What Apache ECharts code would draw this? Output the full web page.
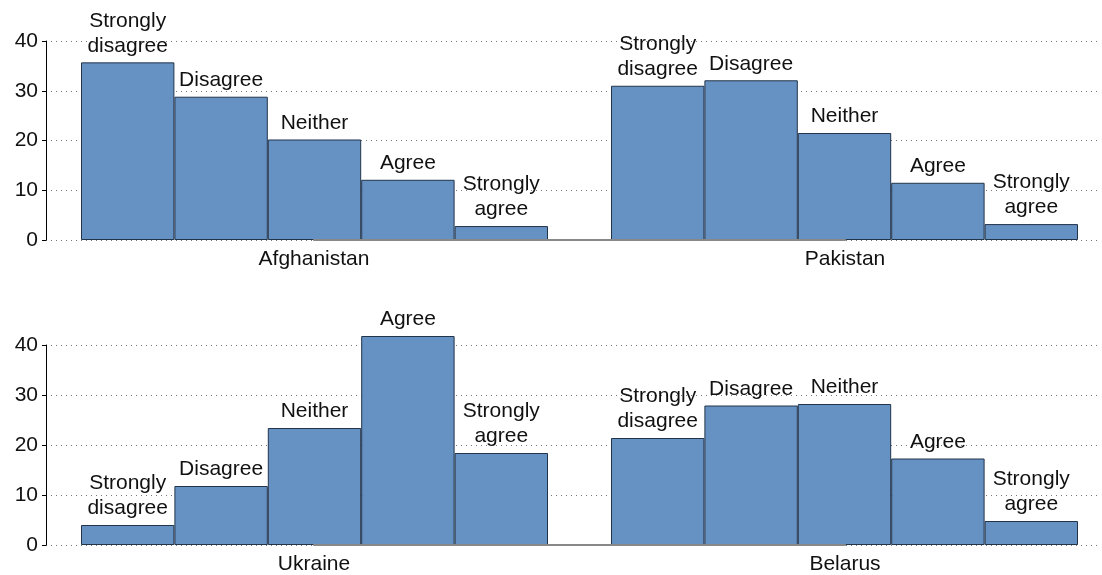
<!DOCTYPE html>
<html>
<head>
<meta charset="utf-8">
<script src="https://cdn.jsdelivr.net/npm/echarts@6/dist/echarts.min.js"></script>
<style>html,body{margin:0;padding:0;background:#fff;}#c{width:1102px;height:575px;}</style>
</head>
<body>
<div id="c"></div>
<script>
var responses = ['Strongly disagree', 'Disagree', 'Neither', 'Agree', 'Strongly agree'];
var topCountries = ['Afghanistan', 'Pakistan'];
var bottomCountries = ['Ukraine', 'Belarus'];
var afghanistan = [35.7, 28.8, 20.2, 12.1, 2.8];
var pakistan = [31.0, 32.1, 21.5, 11.5, 3.2];
var ukraine = [4.0, 11.8, 23.4, 41.8, 18.4];
var belarus = [21.4, 27.9, 28.2, 17.3, 4.8];
var yTicks = [0, 10, 20, 30, 40];

var FONT = "'Liberation Sans', Arial, Helvetica, sans-serif";
var TXT = '#111';

var chart = echarts.init(document.getElementById('c'), null, {renderer: 'canvas'});

var rows = [
  {axisTop: 41, axisH: 199, barTop: 16.1, barH: 223.9, countries: topCountries, data: [afghanistan, pakistan]},
  {axisTop: 345, axisH: 200, barTop: 320, barH: 225, countries: bottomCountries, data: [ukraine, belarus]}
];

var grids = [], xAxes = [], yAxes = [], series = [];
rows.forEach(function (r) {
  // axis / gridline grid
  var gi = grids.length;
  grids.push({left: 46, right: 5, top: r.axisTop, height: r.axisH});
  xAxes.push({type: 'value', gridIndex: gi, show: false, min: 0, max: 1});
  yAxes.push({
    type: 'value', gridIndex: gi, min: yTicks[0], max: yTicks[yTicks.length - 1], interval: 10,
    axisLine: {show: true, lineStyle: {color: '#000', width: 1}},
    axisTick: {show: true, length: 4, lineStyle: {color: '#000'}},
    axisLabel: {fontSize: 21, color: TXT, fontFamily: FONT, margin: 8},
    splitLine: {show: true, lineStyle: {type: [1, 4], color: '#777', width: 1}}
  });
  // country axis grid
  gi = grids.length;
  grids.push({left: 314, right: 257, top: r.axisTop, height: r.axisH});
  xAxes.push({
    type: 'category', gridIndex: gi, data: r.countries, boundaryGap: false, z: 5,
    axisLine: {show: true, lineStyle: {color: '#888', width: 2}},
    axisTick: {show: false},
    axisLabel: {fontSize: 21, color: TXT, fontFamily: FONT, margin: 9}
  });
  yAxes.push({type: 'value', gridIndex: gi, show: false, min: 0, max: 1});
  // bar grids
  [81, 611].forEach(function (left, k) {
    var bi = grids.length;
    grids.push({left: left, width: 467, top: r.barTop, height: r.barH});
    xAxes.push({type: 'category', gridIndex: bi, data: responses, show: false});
    yAxes.push({type: 'value', gridIndex: bi, show: false, min: 0, max: 45});
    series.push({
      type: 'bar', xAxisIndex: bi, yAxisIndex: bi, data: r.data[k],
      barCategoryGap: '0%', z: 2,
      itemStyle: {color: '#6691c3', borderColor: '#22344a', borderWidth: 1},
      label: {
        show: true, position: 'top', distance: 4, fontSize: 21, lineHeight: 25,
        color: TXT, fontFamily: FONT, align: 'center',
        formatter: function (p) { return p.name.replace('Strongly ', 'Strongly\n'); }
      },
      animation: false
    });
  });
});

chart.setOption({
  animation: false,
  grid: grids,
  xAxis: xAxes,
  yAxis: yAxes,
  series: series
});
</script>
</body>
</html>
